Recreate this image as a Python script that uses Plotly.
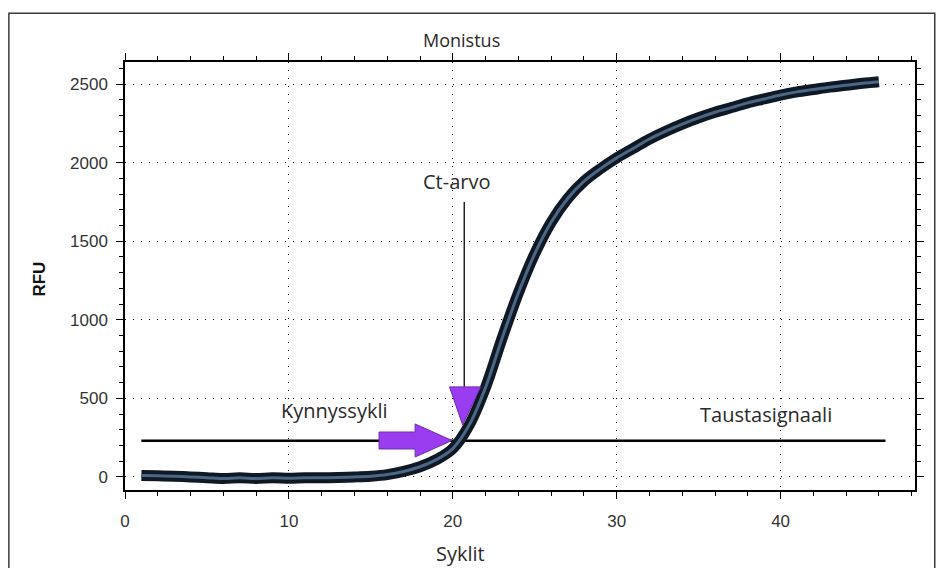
import plotly.graph_objects as go

# ---- data ----
cycles = list(range(1, 47))
rfu = [10, 8, 5, 0, -5, -10, -5, -10, -5, -8,
       -5, -5, -3, 0, 5, 15, 35, 65, 110, 180,
       330, 570, 880, 1170, 1420, 1620, 1770, 1880, 1960, 2030,
       2090, 2150, 2200, 2245, 2285, 2320, 2350, 2380, 2405, 2430,
       2450, 2465, 2480, 2492, 2505, 2515]
threshold_value = 230
threshold_span = [1, 46.4]

title_text = "Monistus"
x_title = "Syklit"
y_title = "RFU"

# annotation anchors (data units)
kynnys_tail = 15.5
kynnys_head_base = 17.7
kynnys_tip = 19.95
kynnys_y = 232
kynnys_shaft_half = 54
kynnys_head_half = 105

ct_x = 20.7
ct_tri_left, ct_tri_right, ct_tri_tip = 19.8, 21.7, 20.6
ct_tri_top, ct_tri_bottom = 573, 331
ct_line_top = 1750

purple = "#9a3cf0"

fig = go.Figure()

fig.add_trace(go.Scatter(x=threshold_span, y=[threshold_value, threshold_value],
                         mode="lines", line=dict(color="black", width=2.5),
                         hoverinfo="skip", showlegend=False))

fig.add_trace(go.Scatter(x=cycles, y=rfu, mode="lines",
                         line=dict(color="#0f1824", width=11, shape="spline"),
                         showlegend=False))
fig.add_trace(go.Scatter(x=cycles, y=rfu, mode="lines",
                         line=dict(color="#4a6784", width=3, shape="spline"),
                         showlegend=False, hoverinfo="skip"))

ax = [kynnys_tail, kynnys_head_base, kynnys_head_base, kynnys_tip,
      kynnys_head_base, kynnys_head_base, kynnys_tail, kynnys_tail]
ay = [kynnys_y + kynnys_shaft_half, kynnys_y + kynnys_shaft_half, kynnys_y + kynnys_head_half,
      kynnys_y, kynnys_y - kynnys_head_half, kynnys_y - kynnys_shaft_half,
      kynnys_y - kynnys_shaft_half, kynnys_y + kynnys_shaft_half]
fig.add_trace(go.Scatter(x=ax, y=ay, mode="lines", fill="toself", fillcolor=purple,
                         line=dict(color="#6a2ab0", width=1), showlegend=False, hoverinfo="skip"))

fig.add_trace(go.Scatter(x=[ct_x, ct_x], y=[ct_line_top, ct_tri_top], mode="lines",
                         line=dict(color="#222", width=1.5), showlegend=False, hoverinfo="skip"))
fig.add_trace(go.Scatter(x=[ct_tri_left, ct_tri_right, ct_tri_tip, ct_tri_left],
                         y=[ct_tri_top, ct_tri_top, ct_tri_bottom, ct_tri_top],
                         mode="lines", fill="toself", fillcolor=purple,
                         line=dict(color="#6a2ab0", width=1), showlegend=False, hoverinfo="skip"))

sans = "Open Sans, Noto Sans, sans-serif"
txt_font = dict(family=sans, size=20, color="#2a2a2a")
fig.add_annotation(x=20.2, y=1880, text="Ct-arvo", showarrow=False, font=txt_font)
fig.add_annotation(x=12.8, y=420, text="Kynnyssykli", showarrow=False, font=txt_font)
fig.add_annotation(x=39.1, y=400, text="Taustasignaali", showarrow=False, font=txt_font)

# title and axis titles placed as in the reference
fig.add_annotation(xref="paper", yref="paper", x=(464 - 125) / 795, y=(490 - 40) / 428,
                   xanchor="center", yanchor="middle",
                   text=title_text, showarrow=False, font=dict(family=sans, size=18, color="#2a2a2a"))
fig.add_annotation(xref="paper", yref="paper", x=(463 - 125) / 795, y=(490 - 553) / 428,
                   xanchor="center", yanchor="middle",
                   text=x_title, showarrow=False, font=dict(family=sans, size=20, color="#2a2a2a"))
fig.add_annotation(xref="paper", yref="paper", x=(38 - 125) / 795, y=(490 - 279) / 428,
                   xanchor="center", yanchor="middle",
                   text="<b>" + y_title + "</b>", textangle=-90, showarrow=False,
                   font=dict(family="Liberation Sans, Arial, sans-serif", size=17, color="#111"))

fig.add_shape(type="rect", xref="paper", yref="paper", x0=-0.147, x1=1.025, y0=-0.2, y1=1.114,
              line=dict(color="#3a3a3a", width=1.5), layer="below")

axis_common = dict(showline=True, linecolor="black", linewidth=1.5, mirror="ticks",
                   ticks="outside", tickcolor="black", ticklen=7, tickwidth=1.2,
                   showgrid=True, gridcolor="black", gridwidth=1, griddash="1px,7px",
                   zeroline=False,
                   tickfont=dict(family="Liberation Sans, Arial, sans-serif", size=17, color="#333"))

fig.update_xaxes(range=[0, 48.2], dtick=10, tick0=0,
                 minor=dict(dtick=2, ticks="outside", ticklen=4, tickcolor="black", showgrid=False),
                 ticklabelstandoff=8,
                 **axis_common)
fig.update_yaxes(range=[-83, 2640], dtick=500, tick0=0,
                 minor=dict(dtick=100, ticks="outside", ticklen=4, tickcolor="black", showgrid=False),
                 ticklabelstandoff=5,
                 **axis_common)

fig.update_layout(
    width=936, height=568,
    margin=dict(l=125, r=16, t=62, b=78),
    paper_bgcolor="white", plot_bgcolor="white",
    showlegend=False,
)

fig.write_html("out.html")
